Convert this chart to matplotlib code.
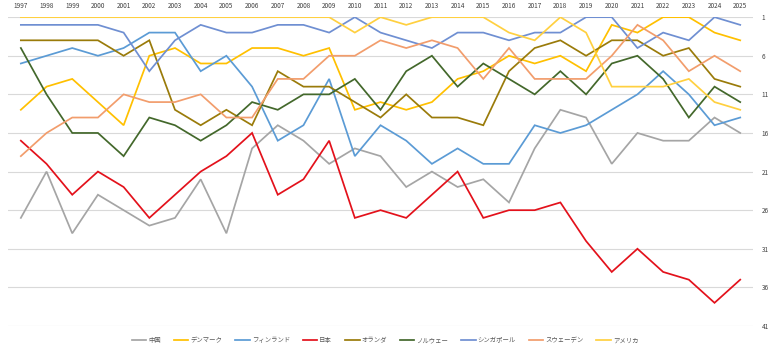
import matplotlib
matplotlib.use("Agg")
import matplotlib.pyplot as plt

plt.rcParams['font.family'] = ['Noto Sans CJK JP', 'DejaVu Sans']

years = list(range(1997, 2026))

china = [27, 21, 29, 24, 26, 28, 27, 22, 29, 18, 15, 17, 20, 18, 19, 23, 21, 23, 22, 25,
         18, 13, 14, 20, 16, 17, 17, 14, 16]
denmark = [13, 10, 9, 12, 15, 6, 5, 7, 7, 5, 5, 6, 5, 13, 12, 13, 12, 9, 8, 6,
           7, 6, 8, 2, 3, 1, 1, 3, 4]
finland = [7, 6, 5, 6, 5, 3, 3, 8, 6, 10, 17, 15, 9, 19, 15, 17, 20, 18, 20, 20,
           15, 16, 15, 13, 11, 8, 11, 15, 14]
japan = [17, 20, 24, 21, 23, 27, 24, 21, 19, 16, 24, 22, 17, 27, 26, 27, 24, 21, 27, 26,
         26, 25, 30, 34, 31, 34, 35, 38, 35]
netherlands = [4, 4, 4, 4, 6, 4, 13, 15, 13, 15, 8, 10, 10, 12, 14, 11, 14, 14, 15, 8,
               5, 4, 6, 4, 4, 6, 5, 9, 10]
norway = [5, 11, 16, 16, 19, 14, 15, 17, 15, 12, 13, 11, 11, 9, 13, 8, 6, 10, 7, 9,
          11, 8, 11, 7, 6, 9, 14, 10, 12]
singapore = [2, 2, 2, 2, 3, 8, 4, 2, 3, 3, 2, 2, 3, 1, 3, 4, 5, 3, 3, 4,
             3, 3, 1, 1, 5, 3, 4, 1, 2]
sweden = [19, 16, 14, 14, 11, 12, 12, 11, 14, 14, 9, 9, 6, 6, 4, 5, 4, 5, 9, 5,
          9, 9, 9, 6, 2, 4, 8, 6, 8]
usa = [1, 1, 1, 1, 1, 1, 1, 1, 1, 1, 1, 1, 1, 3, 1, 2, 1, 1, 1, 3,
       4, 1, 3, 10, 10, 10, 9, 12, 13]

series = [
    ("中国", china, "#a5a5a5"),
    ("デンマーク", denmark, "#ffc000"),
    ("フィンランド", finland, "#5b9bd5"),
    ("日本", japan, "#e3111b"),
    ("オランダ", netherlands, "#9a7b0a"),
    ("ノルウェー", norway, "#43682b"),
    ("シンガポール", singapore, "#6f8fd2"),
    ("スウェーデン", sweden, "#f29d6c"),
    ("アメリカ", usa, "#ffd040"),
]

fig = plt.figure(figsize=(7.7, 3.5), dpi=100)
ax = fig.add_axes([0.0104, 0.0686, 0.9676, 0.8824])

for name, vals, col in series:
    ax.plot(years, vals, color=col, lw=1.25, label=name, solid_joinstyle='miter')

ax.set_xlim(1996.5, 2025.5)
ax.set_ylim(41, 1)
ax.set_yticks(range(1, 42, 5))
ax.set_xticks(years)
ax.xaxis.tick_top()
ax.yaxis.tick_right()
ax.tick_params(axis='both', length=0, labelsize=4.6, colors='#404040')
ax.tick_params(axis='x', pad=5)
ax.tick_params(axis='y', pad=6)
ax.grid(axis='y', color='#d9d9d9', lw=0.8)
ax.set_axisbelow(True)
for s in ax.spines.values():
    s.set_visible(False)

fig.legend(loc='lower center', bbox_to_anchor=(0.5, 0.0), ncol=9, frameon=False,
           fontsize=4.6, handlelength=2.3, columnspacing=2.0, handletextpad=0.3,
           labelcolor='#595959')

fig.savefig("out.png", dpi=100)
